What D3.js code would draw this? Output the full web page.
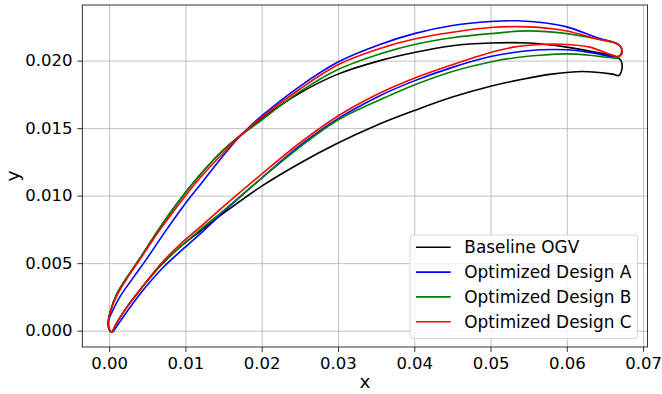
<!DOCTYPE html>
<html>
<head>
<meta charset="utf-8">
<script src="https://cdn.jsdelivr.net/npm/d3@7"></script>
<style>
  html, body { margin: 0; padding: 0; background: #fff; }
  svg { display: block; font-family: "DejaVu Sans", sans-serif; }
</style>
</head>
<body>
<div id="chart"></div>
<script>
// profile coordinates, leading edge -> trailing edge (upper), trailing edge -> leading edge (lower)
const baselineUpper = [
  [-0.0001, 0.0007], [0.0002, 0.0015], [0.0010, 0.0027], [0.0024, 0.0040], [0.0042, 0.0055],
  [0.0065, 0.0075], [0.0090, 0.0095], [0.0117, 0.0114], [0.0150, 0.0134], [0.0200, 0.0157],
  [0.0250, 0.0176], [0.0300, 0.0190], [0.0355, 0.0200], [0.0400, 0.0206], [0.0450, 0.0211],
  [0.0500, 0.0213], [0.0550, 0.0213], [0.0600, 0.0210], [0.0640, 0.0206], [0.0664, 0.0203],
  [0.0671, 0.0200], [0.0672, 0.0193], [0.0668, 0.0189],
];
const baselineLower = [
  [0.0660, 0.0190], [0.0620, 0.0192], [0.0580, 0.0190], [0.0540, 0.0186], [0.0500, 0.0181],
  [0.0450, 0.0173], [0.0400, 0.0163], [0.0350, 0.0152], [0.0300, 0.0139], [0.0250, 0.0124],
  [0.0200, 0.0107], [0.0150, 0.0087], [0.0120, 0.0074], [0.0093, 0.0062], [0.0067, 0.0048],
  [0.0043, 0.0032], [0.0024, 0.0018], [0.0010, 0.0006], [0.0003, -0.0001], [0.0000, 0.0001],
];

const designAUpper = [
  [-0.0001, 0.0007], [0.0004, 0.0014], [0.0014, 0.0025], [0.0030, 0.0038], [0.0049, 0.0053],
  [0.0073, 0.0073], [0.0097, 0.0092], [0.0122, 0.0110], [0.0150, 0.0130], [0.0175, 0.0146],
  [0.0200, 0.0159], [0.0250, 0.0181], [0.0300, 0.0199], [0.0355, 0.0212], [0.0400, 0.0220],
  [0.0450, 0.0226], [0.0500, 0.0229], [0.0535, 0.02295], [0.0570, 0.0228], [0.0600, 0.0225],
  [0.0640, 0.0217], [0.0664, 0.0213], [0.0671, 0.0210], [0.0672, 0.0205], [0.0667, 0.0203],
];
const designALower = [
  [0.0660, 0.0203], [0.0630, 0.0206], [0.0600, 0.0208], [0.0565, 0.0208], [0.0530, 0.0206],
  [0.0500, 0.0203], [0.0450, 0.0195], [0.0400, 0.0185], [0.0355, 0.0174], [0.0300, 0.0157],
  [0.0250, 0.0137], [0.0200, 0.0113], [0.0150, 0.0088], [0.0120, 0.0072], [0.0096, 0.0060],
  [0.0071, 0.0047], [0.0046, 0.0031], [0.0027, 0.0017], [0.0012, 0.0005], [0.0004, -0.0001],
  [0.0000, 0.0001],
];

const designBUpper = [
  [-0.0001, 0.0007], [0.0002, 0.0015], [0.0010, 0.0027], [0.0024, 0.0040], [0.0042, 0.0055],
  [0.0065, 0.0075], [0.0090, 0.0095], [0.0117, 0.0114], [0.0150, 0.0134], [0.0200, 0.0156],
  [0.0250, 0.0177], [0.0300, 0.01935], [0.0355, 0.0205], [0.0400, 0.0212], [0.0450, 0.0217],
  [0.0500, 0.0220], [0.0550, 0.0222], [0.0600, 0.0220], [0.0640, 0.0216], [0.0664, 0.0213],
  [0.0671, 0.0210], [0.0671, 0.0205], [0.0666, 0.0202],
];
const designBLower = [
  [0.0660, 0.0202], [0.0630, 0.0204], [0.0600, 0.0205], [0.0565, 0.0204], [0.0530, 0.0202],
  [0.0500, 0.0199], [0.0450, 0.0192], [0.0400, 0.0182], [0.0355, 0.0171], [0.0300, 0.0156],
  [0.0250, 0.0136], [0.0200, 0.0113], [0.0150, 0.0089], [0.0120, 0.0075], [0.0093, 0.0062],
  [0.0067, 0.0048], [0.0043, 0.0032], [0.0024, 0.0018], [0.0010, 0.0006], [0.0003, -0.0001],
  [0.0000, 0.0001],
];

const designCUpper = [
  [-0.0001, 0.0007], [0.0002, 0.0015], [0.0011, 0.0027], [0.0025, 0.0040], [0.0043, 0.0055],
  [0.0067, 0.0075], [0.0092, 0.0094], [0.0119, 0.0113], [0.0150, 0.0132], [0.0175, 0.0146],
  [0.0200, 0.0158], [0.0250, 0.0179], [0.0300, 0.0197], [0.0355, 0.0209], [0.0400, 0.0216],
  [0.0450, 0.0221], [0.0500, 0.02245], [0.0550, 0.0225], [0.0600, 0.0222], [0.0640, 0.0216],
  [0.0664, 0.0213], [0.0671, 0.0210], [0.0672, 0.0205], [0.0667, 0.0203],
];
const designCLower = [
  [0.0660, 0.0204], [0.0630, 0.0210], [0.0600, 0.0212], [0.0565, 0.0212], [0.0530, 0.0210],
  [0.0500, 0.0206], [0.0450, 0.0197], [0.0400, 0.0187], [0.0355, 0.0176], [0.0300, 0.0159],
  [0.0250, 0.0139], [0.0200, 0.0116], [0.0150, 0.0092], [0.0120, 0.0077], [0.0093, 0.0064],
  [0.0067, 0.0049], [0.0043, 0.0032], [0.0024, 0.0018], [0.0010, 0.0006], [0.0003, -0.0001],
  [0.0000, 0.0001],
];

const seriesNames = ['Baseline OGV', 'Optimized Design A', 'Optimized Design B', 'Optimized Design C'];
const seriesColors = ['#000000', '#0000ff', '#008000', '#ff0000'];
const xTicks = [0.00, 0.01, 0.02, 0.03, 0.04, 0.05, 0.06, 0.07];
const yTicks = [0.000, 0.005, 0.010, 0.015, 0.020];

const profiles = [
  baselineUpper.concat(baselineLower),
  designAUpper.concat(designALower),
  designBUpper.concat(designBLower),
  designCUpper.concat(designCLower),
];

const W = 662;
const H = 394;
const margin = { top: 5, right: 14.5, bottom: 47, left: 82.3 };
const width = W - margin.left - margin.right;
const height = H - margin.top - margin.bottom;

const xScale = d3.scaleLinear().domain([-0.00352, 0.07058]).range([0, width]);
const yScale = d3.scaleLinear().domain([-0.00121, 0.02412]).range([height, 0]);

const svg = d3.select('#chart').append('svg')
  .attr('width', W)
  .attr('height', H);

const g = svg.append('g')
  .attr('transform', `translate(${margin.left},${margin.top})`);

// grid
g.append('g')
  .attr('class', 'grid')
  .attr('transform', `translate(0,${height})`)
  .call(d3.axisBottom(xScale).tickValues(xTicks).tickSize(-height).tickFormat(''))
  .call(s => s.select('.domain').remove())
  .call(s => s.selectAll('line').attr('stroke', '#b0b0b0').attr('stroke-width', 0.8));

g.append('g')
  .attr('class', 'grid')
  .call(d3.axisLeft(yScale).tickValues(yTicks).tickSize(-width).tickFormat(''))
  .call(s => s.select('.domain').remove())
  .call(s => s.selectAll('line').attr('stroke', '#b0b0b0').attr('stroke-width', 0.8));

// profiles
const profileLine = d3.line()
  .curve(d3.curveCatmullRomClosed.alpha(0.5))
  .x(d => xScale(d[0]))
  .y(d => yScale(d[1]));

g.append('g')
  .selectAll('path')
  .data(profiles)
  .enter()
  .append('path')
  .attr('d', profileLine)
  .attr('fill', 'none')
  .attr('stroke', (d, i) => seriesColors[i])
  .attr('stroke-width', 1.6)
  .attr('stroke-linejoin', 'round');

// axes
const xAxis = g.append('g')
  .attr('transform', `translate(0,${height})`)
  .call(d3.axisBottom(xScale).tickValues(xTicks).tickSize(4.9).tickPadding(5).tickFormat(d3.format('.2f')));

const yAxis = g.append('g')
  .call(d3.axisLeft(yScale).tickValues(yTicks).tickSize(4.9).tickPadding(5).tickFormat(d3.format('.3f')));

[xAxis, yAxis].forEach(a => {
  a.select('.domain').remove();
  a.selectAll('line').attr('stroke', '#000').attr('stroke-width', 0.8);
  a.selectAll('text')
    .attr('fill', '#000')
    .style('font-family', '"DejaVu Sans", sans-serif')
    .style('font-size', '16.5px');
});

// frame
g.append('rect')
  .attr('width', width)
  .attr('height', height)
  .attr('fill', 'none')
  .attr('stroke', '#000')
  .attr('stroke-width', 0.8);

// axis labels
svg.append('text')
  .attr('x', margin.left + width / 2)
  .attr('y', 388)
  .attr('text-anchor', 'middle')
  .style('font-size', '18.5px')
  .text('x');

svg.append('text')
  .attr('transform', `translate(19,${margin.top + height / 2}) rotate(-90)`)
  .attr('text-anchor', 'middle')
  .style('font-size', '18.5px')
  .text('y');

// legend
const legend = svg.append('g').attr('transform', 'translate(410,235)');
legend.append('rect')
  .attr('width', 227.5)
  .attr('height', 103.5)
  .attr('rx', 3)
  .attr('fill', '#fff')
  .attr('fill-opacity', 0.8)
  .attr('stroke', '#cccccc')
  .attr('stroke-width', 0.8);

const items = legend.selectAll('.item')
  .data(seriesNames)
  .enter()
  .append('g')
  .attr('class', 'item')
  .attr('transform', (d, i) => `translate(0,${12.3 + i * 24.8})`);

items.append('line')
  .attr('x1', 6)
  .attr('x2', 40.7)
  .attr('stroke', (d, i) => seriesColors[i])
  .attr('stroke-width', 1.6);

items.append('text')
  .attr('x', 54.3)
  .attr('dy', '0.35em')
  .style('font-size', '16.9px')
  .text(d => d);
</script>
</body>
</html>
